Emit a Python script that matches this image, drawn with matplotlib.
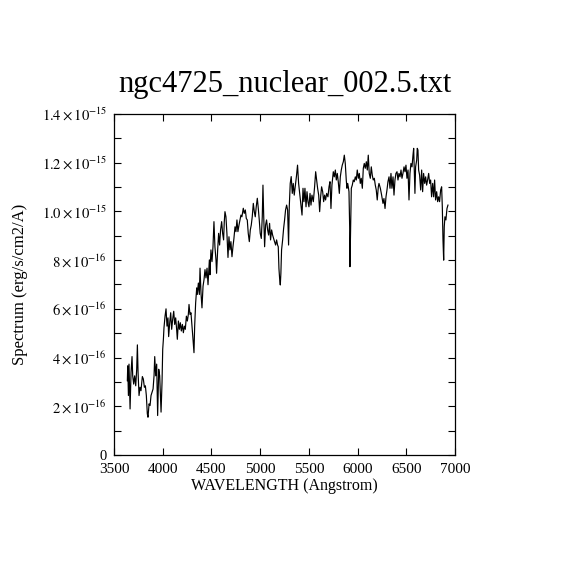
import numpy as np
import matplotlib
matplotlib.use("Agg")
import matplotlib.pyplot as plt
from matplotlib.ticker import MultipleLocator

# Spettro (lunghezza d'onda in Angstrom, flusso in unità di 1e-16)

wavelength = [
    3637, 3641, 3648, 3654, 3665, 3675, 3685, 3692, 3702, 3712, 3723, 3733, 3740, 3747, 3757,
    3767, 3777, 3791, 3801, 3812, 3822, 3832, 3842, 3849, 3860, 3870, 3880, 3890, 3901, 3911,
    3918, 3928, 3938, 3948, 3959, 3969, 3976, 3983, 3993, 4000, 4007, 4013, 4024, 4034, 4044,
    4054, 4061, 4072, 4082, 4092, 4102, 4113, 4123, 4133, 4143, 4150, 4161, 4171, 4181, 4191,
    4202, 4212, 4222, 4232, 4243, 4253, 4263, 4270, 4280, 4290, 4301, 4311, 4321, 4328, 4338,
    4349, 4355, 4366, 4376, 4383, 4393, 4403, 4414, 4424, 4434, 4444, 4455, 4465, 4479, 4485,
    4495, 4506, 4516, 4526, 4536, 4547, 4553, 4564, 4574, 4584, 4594, 4605, 4615, 4625, 4632,
    4639, 4649, 4659, 4670, 4680, 4690, 4700, 4711, 4721, 4731, 4742, 4752, 4762, 4772, 4783,
    4793, 4803, 4813, 4827, 4837, 4848, 4858, 4868, 4878, 4889, 4899, 4909, 4919, 4930, 4940,
    4950, 4960, 4971, 4981, 4991, 5001, 5012, 5022, 5029, 5036, 5046, 5056, 5066, 5077, 5087,
    5097, 5107, 5118, 5128, 5138, 5148, 5159, 5169, 5179, 5186, 5193, 5200, 5207, 5213, 5220,
    5231, 5241, 5251, 5261, 5272, 5282, 5292, 5299, 5309, 5319, 5330, 5340, 5350, 5360, 5374,
    5384, 5395, 5408, 5419, 5430, 5440, 5450, 5460, 5471, 5481, 5491, 5501, 5512, 5522, 5532,
    5546, 5559, 5570, 5580, 5590, 5601, 5611, 5621, 5631, 5642, 5652, 5662, 5672, 5683, 5696,
    5707, 5717, 5727, 5737, 5751, 5761, 5772, 5782, 5792, 5802, 5813, 5823, 5833, 5843, 5854,
    5864, 5874, 5884, 5891, 5898, 5905, 5912, 5919, 5922, 5929, 5936, 5946, 5956, 5966, 5977,
    5987, 5997, 6008, 6018, 6028, 6038, 6049, 6059, 6069, 6079, 6090, 6100, 6110, 6120, 6131,
    6141, 6151, 6161, 6172, 6182, 6192, 6202, 6213, 6220, 6234, 6247, 6261, 6271, 6282, 6292,
    6302, 6312, 6323, 6333, 6343, 6353, 6364, 6374, 6384, 6394, 6405, 6415, 6425, 6436, 6446,
    6456, 6466, 6477, 6487, 6497, 6507, 6518, 6528, 6538, 6548, 6559, 6569, 6576, 6583, 6589,
    6596, 6607, 6613, 6620, 6627, 6637, 6648, 6658, 6668, 6678, 6689, 6699, 6709, 6719, 6730,
    6740, 6750, 6760, 6771, 6781, 6791, 6801, 6812, 6822, 6832, 6842, 6853, 6863, 6870, 6877,
    6884, 6890, 6897, 6907, 6918, 6928,
]

flux_1e16 = [
    3.05, 3.66, 2.44, 3.73, 1.89, 3.39, 4.04, 3.25, 2.91, 3.25, 2.84, 3.52, 4.52, 3.39, 2.44,
    2.78, 2.64, 3.22, 3.12, 2.78, 2.84, 2.44, 1.69, 1.55, 2.10, 2.03, 2.44, 2.57, 2.71, 3.25,
    4.04, 3.25, 3.73, 1.62, 3.52, 3.25, 2.44, 1.76, 2.98, 4.34, 4.75, 5.22, 5.70, 6.00, 5.29,
    5.63, 4.86, 5.43, 5.84, 5.16, 5.56, 5.90, 5.36, 5.63, 5.16, 4.75, 5.50, 5.16, 5.43, 5.09,
    5.36, 5.02, 5.29, 5.16, 5.70, 5.50, 5.77, 6.18, 5.77, 5.84, 5.29, 4.75, 4.20, 5.29, 6.24,
    6.86, 6.59, 7.06, 6.59, 7.67, 6.65, 6.04, 6.93, 7.20, 7.61, 7.27, 7.67, 6.99, 8.01, 7.40,
    8.42, 7.94, 8.55, 9.58, 8.55, 8.00, 7.46, 8.42, 9.10, 8.62, 9.24, 9.58, 9.10, 8.83, 9.58,
    9.99, 9.78, 9.10, 8.11, 8.96, 8.42, 8.76, 8.14, 8.55, 8.89, 9.37, 9.17, 9.65, 9.17, 9.44,
    9.65, 9.85, 9.78, 10.13, 9.92, 10.06, 9.71, 9.65, 9.10, 8.76, 9.24, 9.44, 9.78, 10.33, 9.99,
    9.78, 10.19, 10.54, 10.13, 9.65, 9.10, 8.89, 9.78, 11.08, 9.92, 8.55, 9.44, 9.65, 9.24, 9.03,
    9.51, 8.83, 9.24, 9.03, 8.89, 8.76, 8.62, 8.83, 8.62, 8.55, 7.66, 7.25, 6.98, 7.46, 8.42,
    8.83, 9.30, 9.65, 10.06, 10.26, 10.06, 8.62, 10.19, 11.15, 11.43, 10.74, 11.15, 10.67, 11.01, 11.49,
    11.90, 11.15, 10.67, 10.26, 9.85, 10.95, 10.40, 10.95, 10.19, 10.81, 10.40, 10.19, 10.74, 10.26, 10.67,
    10.40, 11.01, 11.63, 11.29, 10.95, 10.67, 9.99, 10.60, 11.01, 10.81, 10.40, 10.67, 10.47, 10.74, 10.60,
    11.01, 11.22, 10.12, 11.08, 11.63, 11.42, 11.70, 11.29, 11.56, 11.22, 10.74, 11.42, 11.70, 11.90, 12.04,
    12.31, 11.97, 11.29, 10.95, 11.15, 11.01, 10.81, 9.37, 7.73, 9.37, 10.95, 11.08, 11.29, 11.22, 11.42,
    11.29, 11.70, 11.36, 11.56, 11.15, 11.36, 10.95, 11.77, 11.97, 11.77, 12.04, 11.70, 12.31, 11.56, 11.36,
    11.83, 11.49, 11.29, 11.36, 11.08, 10.88, 10.47, 11.01, 11.15, 10.95, 10.67, 10.33, 10.53, 10.12, 10.60,
    10.88, 11.22, 11.42, 10.95, 11.56, 10.95, 11.42, 10.67, 11.29, 11.56, 11.63, 11.29, 11.56, 11.42, 11.70,
    11.36, 11.56, 11.83, 11.63, 11.90, 11.36, 11.70, 10.47, 11.56, 11.97, 11.83, 12.31, 12.59, 11.56, 10.74,
    11.83, 12.11, 12.59, 12.52, 11.70, 11.49, 10.88, 11.70, 10.81, 11.56, 11.15, 11.42, 11.08, 11.29, 11.56,
    11.15, 11.29, 10.60, 11.15, 10.60, 11.29, 10.47, 10.81, 10.40, 10.60, 10.40, 10.88, 11.01, 10.19, 8.82,
    8.00, 9.37, 9.78, 9.65, 10.12, 10.26,
]

ytick_values = [0, 2e-16, 4e-16, 6e-16, 8e-16, 1.0e-15, 1.2e-15, 1.4e-15]
ytick_labels = ["0", r"$2\times10^{-16}$", r"$4\times10^{-16}$", r"$6\times10^{-16}$",
                r"$8\times10^{-16}$", r"$1.0\times10^{-15}$", r"$1.2\times10^{-15}$",
                r"$1.4\times10^{-15}$"]
xtick_values = [3500, 4000, 4500, 5000, 5500, 6000, 6500, 7000]

plt.rcParams["font.family"] = ["Liberation Serif", "DejaVu Serif"]
plt.rcParams["mathtext.fontset"] = "stix"

flux = np.array(flux_1e16) * 1e-16

fig = plt.figure(figsize=(5.7, 5.7), dpi=100)
ax = fig.add_axes([0.2, 0.2018, 0.5982, 0.5982])

ax.plot(wavelength, flux, color="black", linewidth=0.85)

ax.set_xlim(3500, 7000)
ax.set_ylim(0, 1.4e-15)

ax.set_xticks(xtick_values)
ax.set_xticklabels([str(v) for v in xtick_values], fontsize=11)
ax.set_yticks(ytick_values)
ax.set_yticklabels(ytick_labels, fontsize=10.5)
ax.yaxis.set_minor_locator(MultipleLocator(1e-16))

ax.tick_params(axis="both", which="both", direction="in", top=True, right=True,
               length=5, width=0.8)
ax.tick_params(axis="x", pad=6)
ax.tick_params(axis="y", pad=5)

for spine in ax.spines.values():
    spine.set_linewidth(0.9)

ax.set_xlabel("WAVELENGTH (Angstrom)", fontsize=11.5, labelpad=1)
ax.set_ylabel("Spectrum (erg/s/cm2/A)", fontsize=12, labelpad=10)
ax.set_title("ngc4725_nuclear_002.5.txt", fontsize=22, pad=16)

fig.savefig("out.png", dpi=100)
